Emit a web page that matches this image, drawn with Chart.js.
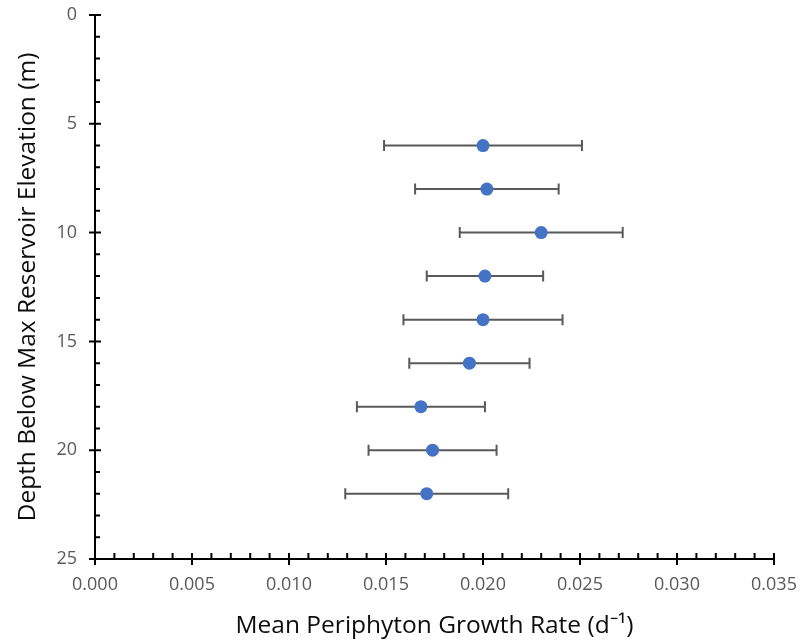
<!DOCTYPE html>
<html>
<head>
<meta charset="utf-8">
<script src="https://cdn.jsdelivr.net/npm/chart.js@4.4.0/dist/chart.umd.min.js"></script>
<style>
    html, body { margin: 0; padding: 0; background: #fff; }
    #wrap { width: 802px; height: 640px; }
</style>
</head>
<body>
<div id="wrap"><canvas id="growthChart" width="802" height="640"></canvas></div>
<script>
// depth below max reservoir elevation (m)
const depths = [6, 8, 10, 12, 14, 16, 18, 20, 22];
// mean periphyton growth rate (1/d)
const meanRates = [0.0200, 0.0202, 0.0230, 0.0201, 0.0200, 0.0193, 0.0168, 0.0174, 0.0171];
// error bar half-width (1/d)
const rateErrors = [0.0051, 0.0037, 0.0042, 0.0030, 0.0041, 0.0031, 0.0033, 0.0033, 0.0042];

const xTicks = [0, 0.005, 0.010, 0.015, 0.020, 0.025, 0.030, 0.035];
const yTicks = [0, 5, 10, 15, 20, 25];

const fontFamily = '"Open Sans", sans-serif';

// horizontal error bars with caps, drawn under the points
const errorBars = {
    id: 'errorBars',
    beforeDatasetsDraw(chart) {
        const ctx = chart.ctx;
        const xs = chart.scales.x;
        const ys = chart.scales.y;
        ctx.save();
        ctx.strokeStyle = '#595959';
        ctx.lineWidth = 2;
        depths.forEach((d, i) => {
            const y = ys.getPixelForValue(d);
            const x1 = xs.getPixelForValue(meanRates[i] - rateErrors[i]);
            const x2 = xs.getPixelForValue(meanRates[i] + rateErrors[i]);
            ctx.beginPath();
            ctx.moveTo(x1, y); ctx.lineTo(x2, y);
            ctx.moveTo(x1, y - 5.5); ctx.lineTo(x1, y + 5.5);
            ctx.moveTo(x2, y - 5.5); ctx.lineTo(x2, y + 5.5);
            ctx.stroke();
        });
        ctx.restore();
    }
};

// major ticks cross the axis, minor ticks point inward
const axisTicks = {
    id: 'axisTicks',
    afterDraw(chart) {
        const ctx = chart.ctx;
        const xs = chart.scales.x;
        const ys = chart.scales.y;
        const area = chart.chartArea;
        ctx.save();
        ctx.strokeStyle = '#000';
        ctx.lineWidth = 2;
        ctx.beginPath();
        for (let i = 0; i <= 35; i++) {
            const x = xs.getPixelForValue(i / 1000);
            if (i % 5 === 0) {
                ctx.moveTo(x, area.bottom - 6); ctx.lineTo(x, area.bottom + 6);
            } else {
                ctx.moveTo(x, area.bottom - 6); ctx.lineTo(x, area.bottom);
            }
        }
        for (let j = 0; j <= 25; j++) {
            const y = ys.getPixelForValue(j);
            if (j % 5 === 0) {
                ctx.moveTo(area.left - 6, y); ctx.lineTo(area.left + 6, y);
            } else {
                ctx.moveTo(area.left, y); ctx.lineTo(area.left + 5, y);
            }
        }
        ctx.stroke();
        ctx.restore();
    }
};

const ctx = document.getElementById('growthChart').getContext('2d');
const myChart = new Chart(ctx, {
    type: 'scatter',
    data: {
        datasets: [{
            label: 'Mean growth rate',
            data: depths.map((d, i) => ({ x: meanRates[i], y: d })),
            backgroundColor: '#4472C4',
            borderColor: '#4472C4',
            borderWidth: 0,
            pointRadius: 6.5,
            pointHoverRadius: 6.5
        }]
    },
    options: {
        responsive: false,
        animation: false,
        layout: { padding: { top: 15, right: 28, left: 0, bottom: 0 } },
        plugins: {
            legend: { display: false },
            tooltip: { enabled: false }
        },
        scales: {
            x: {
                type: 'linear',
                min: 0,
                max: 0.035,
                afterBuildTicks: (scale) => { scale.ticks = xTicks.map(v => ({ value: v })); },
                afterFit: (scale) => {
                    scale.height = 81;
                    scale.paddingLeft = 0;
                    scale.paddingRight = 0;
                },
                grid: { display: false, drawTicks: false },
                border: { display: true, color: '#000', width: 2 },
                ticks: {
                    padding: 15,
                    color: '#595959',
                    font: { family: fontFamily, size: 18 },
                    maxRotation: 0,
                    callback: (v) => v.toFixed(3)
                },
                title: {
                    display: true,
                    text: 'Mean Periphyton Growth Rate (d\u207B\u00B9)',
                    color: '#0d0d0d',
                    font: { family: fontFamily, size: 24.5 },
                    padding: { top: 0, bottom: -1 }
                }
            },
            y: {
                type: 'linear',
                reverse: true,
                min: 0,
                max: 25,
                afterBuildTicks: (scale) => { scale.ticks = yTicks.map(v => ({ value: v })); },
                afterFit: (scale) => {
                    scale.width = 95;
                    scale.paddingTop = 0;
                    scale.paddingBottom = 0;
                },
                grid: { display: false, drawTicks: false },
                border: { display: true, color: '#000', width: 2 },
                ticks: {
                    padding: 18,
                    color: '#595959',
                    font: { family: fontFamily, size: 18 }
                },
                title: {
                    display: true,
                    text: 'Depth Below Max Reservoir Elevation (m)',
                    color: '#0d0d0d',
                    font: { family: fontFamily, size: 24.5 },
                    padding: { top: 13.5, bottom: 0 }
                }
            }
        }
    },
    plugins: [errorBars, axisTicks]
});
</script>
</body>
</html>
